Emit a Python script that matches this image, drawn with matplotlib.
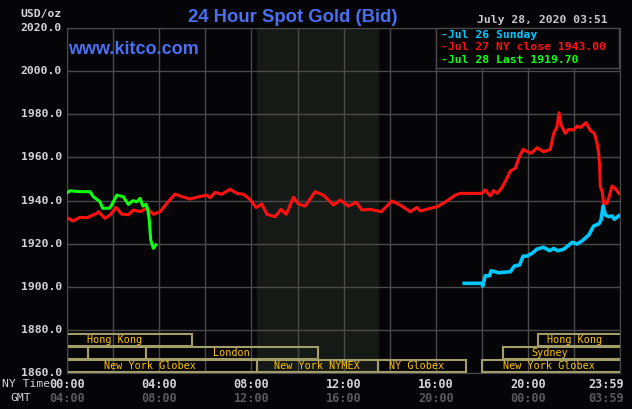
import matplotlib
matplotlib.use("Agg")
import matplotlib.pyplot as plt
from matplotlib.patches import Rectangle
import matplotlib.transforms as mtransforms

# ---- data (x = NY time in hours, y = USD/oz) ----
red_t = [0.00, 0.27, 0.56, 0.86, 1.29, 1.36, 1.65, 1.87, 2.13, 2.37, 2.66, 2.88, 3.17, 3.46,
         3.75, 4.04, 4.33, 4.69, 4.98, 5.34, 5.63, 6.06, 6.21, 6.42, 6.71, 7.07, 7.37, 7.65,
         7.94, 8.20, 8.45, 8.67, 9.03, 9.28, 9.51, 9.82, 10.04, 10.33, 10.76, 11.12, 11.56,
         11.85, 12.21, 12.54, 12.79, 13.15, 13.63, 14.09, 14.45, 14.89, 15.18, 15.32, 15.76,
         16.05, 16.48, 16.84, 17.06, 18.00, 18.14, 18.36, 18.50, 18.65, 18.87, 19.08, 19.23,
         19.44, 19.59, 19.78, 19.98, 20.13, 20.39, 20.67, 20.96, 21.11, 21.25, 21.34, 21.43,
         21.61, 21.76, 21.98, 22.12, 22.27, 22.51, 22.70, 22.87, 22.99, 23.06, 23.10, 23.13,
         23.21, 23.28, 23.42, 23.49, 23.64, 23.78, 23.93]
red_p = [1932.0, 1930.5, 1932.2, 1932.0, 1934.0, 1934.8, 1931.7, 1933.3, 1936.8, 1933.7,
         1933.4, 1935.6, 1934.8, 1936.4, 1933.6, 1934.8, 1938.7, 1943.0, 1941.8, 1940.7,
         1941.5, 1942.5, 1941.3, 1943.8, 1942.9, 1945.2, 1943.3, 1942.9, 1940.5, 1936.7,
         1938.4, 1933.6, 1932.5, 1935.9, 1933.6, 1941.5, 1938.4, 1937.4, 1944.1, 1942.5,
         1937.9, 1940.2, 1937.4, 1939.2, 1935.6, 1935.9, 1934.8, 1939.8, 1937.9, 1934.8,
         1936.8, 1935.1, 1936.4, 1937.1, 1939.8, 1942.5, 1943.3, 1943.3, 1944.9, 1942.1,
         1944.6, 1943.3, 1946.1, 1950.3, 1953.7, 1954.9, 1959.6, 1963.7, 1962.6, 1961.9,
         1964.5, 1962.6, 1963.7, 1971.2, 1974.2, 1980.7, 1975.0, 1971.2, 1973.0, 1972.7,
         1974.5, 1973.9, 1976.1, 1972.4, 1971.2, 1966.5, 1961.9, 1955.7, 1946.4, 1944.1,
         1938.4, 1938.7, 1941.0, 1946.7, 1945.6, 1943.3]

cyan_t = [17.23, 18.00, 18.03, 18.14, 18.33, 18.39, 18.72, 19.23, 19.40, 19.63, 19.78, 19.95,
          20.17, 20.39, 20.67, 20.93, 21.11, 21.28, 21.54, 21.91, 22.12, 22.34, 22.63, 22.84,
          23.06, 23.16, 23.25, 23.35, 23.49, 23.64, 23.74, 23.93]
cyan_p = [1901.6, 1901.6, 1900.3, 1905.1, 1905.1, 1907.4, 1906.5, 1907.0, 1909.6, 1910.1,
          1914.2, 1914.2, 1915.5, 1917.5, 1918.3, 1916.7, 1917.8, 1916.7, 1917.4, 1920.6,
          1919.8, 1921.3, 1924.0, 1928.2, 1929.1, 1930.9, 1937.4, 1933.3, 1932.5, 1932.8,
          1931.3, 1932.9]

green_t = [0.00, 0.13, 0.56, 1.00, 1.14, 1.43, 1.55, 1.84, 1.94, 2.16, 2.44, 2.66, 2.85,
           3.03, 3.17, 3.29, 3.43, 3.50, 3.57, 3.63, 3.75, 3.85]
green_p = [1943.6, 1944.5, 1944.1, 1944.1, 1941.8, 1939.4, 1936.4, 1936.4, 1937.9, 1942.5,
           1941.8, 1938.2, 1939.9, 1939.4, 1941.0, 1937.4, 1938.2, 1935.9, 1930.9, 1921.7,
           1917.8, 1919.4]

legend_labels = ["Jul 26 Sunday", "Jul 27 NY close 1943.00", "Jul 28 Last 1919.70"]
legend_colors = ["#00c8ff", "#ff1010", "#10ff10"]

y_ticks = [1860, 1880, 1900, 1920, 1940, 1960, 1980, 2000, 2020]
x_ticks = [0, 4, 8, 12, 16, 20, 23.983]
ny_labels = ["00:00", "04:00", "08:00", "12:00", "16:00", "20:00", "23:59"]
gmt_labels = ["04:00", "08:00", "12:00", "16:00", "20:00", "00:00", "03:59"]

# NYMEX pit session (shaded)
nymex_open, nymex_close = 8.25, 13.5

# market sessions: row (0 = top), start, end, label, label centre
sess_row = [0, 0, 1, 1, 1, 1, 2, 2, 2, 2]
sess_start = [0.0, 20.44, 0.0, 0.91, 3.43, 18.92, 0.0, 8.25, 13.5, 18.0]
sess_end = [5.43, 24.5, 0.91, 3.43, 10.9, 24.5, 8.25, 13.5, 17.32, 24.5]
sess_label = ["Hong Kong", "Hong Kong", "", "", "London", "Sydney",
              "New York Globex", "New York NYMEX", "NY Globex", "New York Globex"]
sess_label_t = [2.08, 22.0, 0, 0, 7.12, 20.94, 3.61, 10.85, 15.15, 20.92]

bg = "#050508"
grid_c = "#4a4a4a"
mono = "DejaVu Sans Mono"

fig = plt.figure(figsize=(6.32, 4.09), dpi=100, facecolor=bg)
ax = fig.add_axes([67 / 632, 1 - 373 / 409, 553 / 632, 345 / 409], facecolor=bg)

ax.set_xlim(0, 23.983)
ax.set_ylim(1860, 2020)

ax.axvspan(nymex_open, nymex_close, color="#161a16", zorder=0)

for h in range(0, 25, 2):
    ax.axvline(h, color=grid_c, lw=1, zorder=1)
for p in y_ticks:
    ax.axhline(p, color=grid_c, lw=1, zorder=1)

for s in ax.spines.values():
    s.set_color(grid_c)

# market session boxes
row_top = 1878.1
for r, a, b, lab, lt in zip(sess_row, sess_start, sess_end, sess_label, sess_label_t):
    top = row_top - 6.03 * r
    ax.add_patch(Rectangle((a, top - 5.57), b - a, 5.57, fill=False,
                           edgecolor="#a39d68", lw=1.5, zorder=2))
    if lab:
        ax.text(lt, top - 2.8, lab, color="#ffc400", fontsize=7.3, family=mono,
                ha="center", va="center", zorder=3)

ax.plot(red_t, red_p, color=legend_colors[1], lw=2.2, zorder=4)
ax.plot(cyan_t, cyan_p, color=legend_colors[0], lw=2.6, zorder=5)
ax.plot(green_t, green_p, color=legend_colors[2], lw=2.2, zorder=6)

ax.set_xticks([])
ax.set_yticks([])

# y tick labels, right-aligned just left of the plot area
yt = mtransforms.blended_transform_factory(fig.transFigure, ax.transData)
for p in y_ticks:
    ax.text(62 / 632, p, f"{p:.1f}", transform=yt, color="#d4d4d4", fontsize=8.2,
            family=mono, weight="bold", ha="right", va="center", clip_on=False)

# x tick labels (NY time row and GMT row)
xt = mtransforms.blended_transform_factory(ax.transData, fig.transFigure)
for i, (t, ny, gmt) in enumerate(zip(x_ticks, ny_labels, gmt_labels)):
    ha = "center"
    tt = t
    if i == len(x_ticks) - 1:
        ha, tt = "right", t + 0.17
    ax.text(tt, 1 - 384 / 409, ny, transform=xt, color="#d4d4d4", fontsize=8.6,
            family=mono, weight="bold", ha=ha, va="center")
    ax.text(tt, 1 - 398 / 409, gmt, transform=xt, color="#5a5a5a", fontsize=8.6,
            family=mono, weight="bold", ha=ha, va="center")

fig.text(2 / 632, 1 - 384 / 409, "NY Time", color="#d4d4d4", fontsize=8.2, family=mono,
         ha="left", va="center")
fig.text(10 / 632, 1 - 398 / 409, "GMT", color="#d4d4d4", fontsize=8.2, family=mono,
         ha="left", va="center")
fig.text(62 / 632, 1 - 14 / 409, "USD/oz", color="#d4d4d4", fontsize=8.2, family=mono,
         weight="bold", ha="right", va="center")

blue = "#4b6ff2"
fig.text(293 / 632, 1 - 17 / 409, "24 Hour Spot Gold (Bid)", color=blue, fontsize=13.3,
         family="Liberation Sans", weight="bold", ha="center", va="center")
ax.text(68 / 632, 1 - 50 / 409, "www.kitco.com", transform=fig.transFigure, color=blue,
        fontsize=13, family="Liberation Sans", weight="bold", ha="left", va="center", zorder=7)
fig.text(608 / 632, 1 - 20 / 409, "July 28, 2020 03:51", color="#c8c8c8", fontsize=8.2,
         family=mono, weight="bold", ha="right", va="center")

# legend box
lx0, lx1 = 436 / 632, 619 / 632
ly0, ly1 = 1 - 68 / 409, 1 - 28 / 409
fig.patches.append(Rectangle((lx0, ly0), lx1 - lx0, ly1 - ly0, transform=fig.transFigure,
                             facecolor=bg, edgecolor=grid_c, lw=1, zorder=8))
for k, (lab, c) in enumerate(zip(legend_labels, legend_colors)):
    fig.text(441 / 632, 1 - (35 + 12.5 * k) / 409, "-" + lab, color=c, fontsize=8.2,
             family=mono, weight="bold", ha="left", va="center", zorder=9)

fig.savefig("out.png", dpi=100, facecolor=bg)
